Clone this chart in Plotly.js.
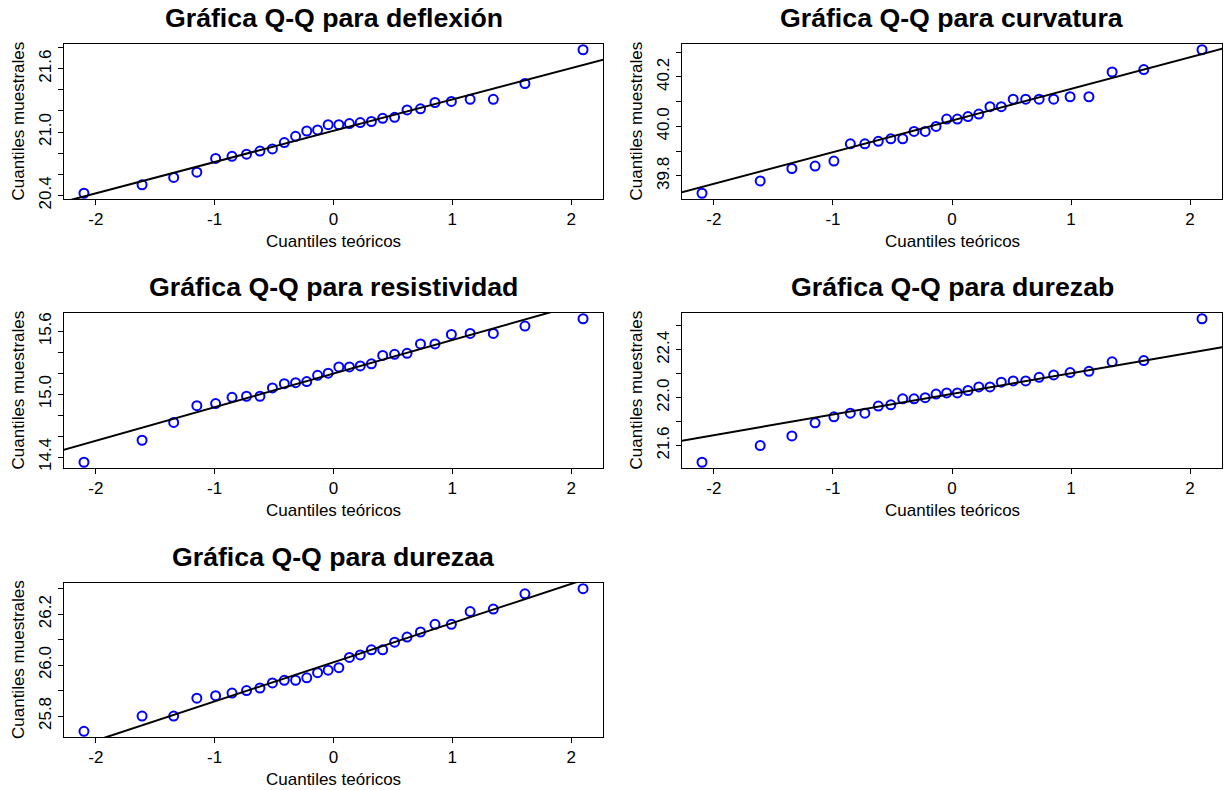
<!DOCTYPE html>
<html>
<head>
<meta charset="utf-8">
<script src="https://cdn.plot.ly/plotly-3.0.1.min.js"></script>
<style>html,body{margin:0;padding:0;background:#fff;}#chart{width:1225px;height:790px;}</style>
</head>
<body>
<div id="chart"></div>
<script>
// Theoretical normal quantiles (n = 28), as read on the x axis
const teoricos = [-2.100,-1.611,-1.345,-1.150,-0.992,-0.854,-0.732,-0.619,-0.514,-0.414,-0.319,-0.225,-0.134,-0.045,
                   0.045, 0.134, 0.225, 0.319, 0.414, 0.514, 0.619, 0.732, 0.854, 0.992, 1.150, 1.345, 1.611, 2.100];

// Sample quantiles (sorted) for each variable
const deflexion = [20.42,20.50,20.57,20.62,20.75,20.77,20.79,20.82,20.84,20.90,20.96,21.01,21.02,21.07,
                   21.07,21.08,21.09,21.10,21.13,21.14,21.21,21.22,21.28,21.29,21.31,21.31,21.46,21.78];
const curvatura = [39.73,39.78,39.83,39.84,39.86,39.93,39.93,39.94,39.95,39.95,39.98,39.98,40.00,40.03,
                   40.03,40.04,40.05,40.08,40.08,40.11,40.11,40.11,40.11,40.12,40.12,40.22,40.23,40.31];
const resistividad = [14.35,14.56,14.73,14.89,14.91,14.97,14.98,14.98,15.06,15.10,15.11,15.12,15.18,15.20,
                   15.26,15.26,15.27,15.29,15.37,15.38,15.39,15.48,15.48,15.57,15.58,15.58,15.65,15.72];
const durezab = [21.46,21.60,21.68,21.79,21.84,21.87,21.87,21.93,21.94,21.99,21.99,22.00,22.03,22.04,
                   22.04,22.06,22.09,22.09,22.13,22.14,22.14,22.17,22.19,22.21,22.22,22.30,22.31,22.66];
const durezaa = [25.74,25.80,25.80,25.87,25.88,25.89,25.90,25.91,25.93,25.94,25.94,25.95,25.97,25.98,
                   25.99,26.03,26.04,26.06,26.06,26.09,26.11,26.13,26.16,26.16,26.21,26.22,26.28,26.30];

const titulos = ["Gráfica Q-Q para deflexión","Gráfica Q-Q para curvatura","Gráfica Q-Q para resistividad",
                 "Gráfica Q-Q para durezab","Gráfica Q-Q para durezaa"];
const xTicks = [-2,-1,0,1,2];
const yTicks = [
  [20.4,20.6,20.8,21.0,21.2,21.4,21.6,21.8],
  [39.8,39.9,40.0,40.1,40.2,40.3],
  [14.4,14.6,14.8,15.0,15.2,15.4,15.6],
  [21.6,21.8,22.0,22.2,22.4,22.6],
  [25.8,25.9,26.0,26.1,26.2,26.3]
];
const yLabels = [
  ["20.4","","","21.0","","","21.6",""],
  ["39.8","","40.0","","40.2",""],
  ["14.4","","","15.0","","","15.6"],
  ["21.6","","22.0","","22.4",""],
  ["25.8","","26.0","","26.2",""]
];
const muestras = [deflexion,curvatura,resistividad,durezab,durezaa];

// pixel boxes of each panel [left,right,top,bottom]
const W = 1225, H = 790;
const boxes = [[64,603,44,199],[682,1222,44,199],[64,603,313,468],[682,1222,313,468],[64,603,583,737]];

function q7(arr,p){const s=[...arr].sort((a,b)=>a-b);const h=(s.length-1)*p;const lo=Math.floor(h);const hi=Math.ceil(h);return s[lo]+(h-lo)*(s[hi]-s[lo]);}
function ext(a){const mn=Math.min(...a),mx=Math.max(...a),d=mx-mn;return [mn-0.04*d,mx+0.04*d];}

const font = "Liberation Sans, Arial, sans-serif";
const data = [], annotations = [];
const layout = {width:W,height:H,margin:{l:0,r:0,t:0,b:0},paper_bgcolor:"#fff",plot_bgcolor:"#fff",
  showlegend:false,font:{family:font,color:"#000"}};

muestras.forEach((y,i)=>{
  const k = i===0?"":String(i+1);
  const [L,R,T,B] = boxes[i];
  const xr = ext(teoricos), yr = ext(y);
  const z = 0.6744898;
  const y25 = q7(y,0.25), y75 = q7(y,0.75);
  const slope = (y75-y25)/(2*z), inter = y25 + slope*z;
  data.push({x:teoricos,y:y,type:"scatter",mode:"markers",xaxis:"x"+k,yaxis:"y"+k,
    marker:{symbol:"circle-open",size:9,color:"#0000ff",line:{width:2,color:"#0000ff"}},hoverinfo:"x+y"});
  data.push({x:[xr[0]-1,xr[1]+1],y:[inter+slope*(xr[0]-1),inter+slope*(xr[1]+1)],type:"scatter",mode:"lines",
    xaxis:"x"+k,yaxis:"y"+k,line:{color:"#000",width:2},hoverinfo:"skip"});
  layout["xaxis"+k] = {domain:[L/W,R/W],range:xr,anchor:"y"+k,showgrid:false,zeroline:false,
    showline:true,mirror:true,linecolor:"#000",linewidth:1,ticks:"outside",ticklen:5,tickcolor:"#000",
    tickvals:xTicks,ticktext:xTicks.map(String),tickfont:{family:font,size:17,color:"#000"},fixedrange:true};
  layout["yaxis"+k] = {domain:[1-B/H,1-T/H],range:yr,anchor:"x"+k,showgrid:false,zeroline:false,
    showline:true,mirror:true,linecolor:"#000",linewidth:1,ticks:"outside",ticklen:5,tickcolor:"#000",
    tickvals:yTicks[i],ticktext:yLabels[i],tickangle:-90,tickfont:{family:font,size:17,color:"#000"},fixedrange:true};
  annotations.push({text:"<b>"+titulos[i]+"</b>",xref:"paper",yref:"paper",x:(L+R)/2/W,y:1-(T-26)/H,
    xanchor:"center",yanchor:"middle",showarrow:false,font:{family:font,size:26.7,color:"#000"}});
  annotations.push({text:"Cuantiles teóricos",xref:"paper",yref:"paper",x:(L+R)/2/W,y:1-(B+42)/H,
    xanchor:"center",yanchor:"middle",showarrow:false,font:{family:font,size:17,color:"#000"}});
  annotations.push({text:"Cuantiles muestrales",xref:"paper",yref:"paper",x:(L-46)/W,y:1-(T+B)/2/H,
    xanchor:"center",yanchor:"middle",textangle:-90,showarrow:false,font:{family:font,size:17,color:"#000"}});
});
layout.annotations = annotations;
Plotly.newPlot("chart",data,layout,{staticPlot:true,displayModeBar:false});
</script>
</body>
</html>
